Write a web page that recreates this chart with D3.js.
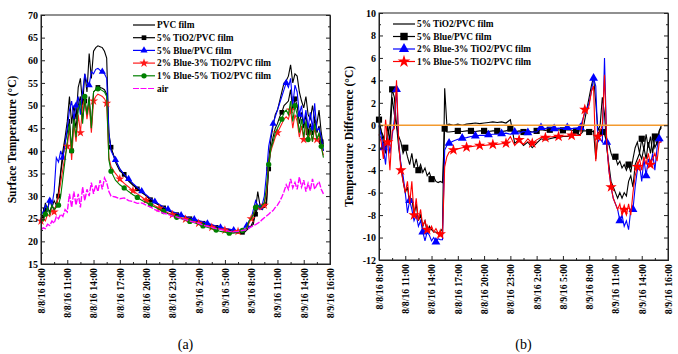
<!DOCTYPE html>
<html>
<head>
<meta charset="utf-8">
<script src="https://cdn.jsdelivr.net/npm/d3@7"></script>
<style>
  body { margin: 0; background: #fff; }
  svg { display: block; }
  text { font-family: "Liberation Serif", "Times New Roman", serif; }
</style>
</head>
<body>
<svg id="fig" width="678" height="354"></svg>
<script>
// Horas desde 8/8/16 8:00 (día 1, noche, día 2)
const hoursDay1 = [0,0.25,0.5,0.75,1,1.25,1.5,1.75,2,2.25,2.5,2.75,3,3.25,3.5,3.75,4,4.25,4.5,4.75,5,5.25,5.5,5.75,6,6.25,6.5,6.75,7,7.25,7.5,7.75,8];
const hoursNight = [8.5,9,9.5,10,10.5,11,11.5,12,12.5,13,13.5,14,14.5,15,15.5,16,16.5,17,17.5,18,18.5,19,19.5,20,20.5,21,21.5,22,22.5,23];
const hoursDay2 = [23.25,23.5,23.75,24,24.25,24.5,24.75,25,25.25,25.5,25.75,26,26.25,26.5,26.75,27,27.25,27.5,27.75,28,28.25,28.5,28.75,29,29.25,29.5,29.75,30,30.25,30.5,30.75,31,31.25,31.5,31.75,32,32.25];
const hours = hoursDay1.concat(hoursNight, hoursDay2);

const xTickHours = [0,3,6,9,12,15,18,21,24,27,30,33];
const xTickLabels = ['8/8/16 8:00','8/8/16 11:00','8/8/16 14:00','8/8/16 17:00','8/8/16 20:00','8/8/16 23:00',
  '8/9/16 2:00','8/9/16 5:00','8/9/16 8:00','8/9/16 11:00','8/9/16 14:00','8/9/16 16:00'];

// (a) Temperatura superficial (°C)
const pvcFilm = [26,25.5,28.5,27,29.5,27.5,29,28,31,35.5,40,43,46.5,52,46,50,47,54,56,50,57,53,61.5,56,62,62.8,63.2,63,62.8,62,60.5,44,40.5,
  38,36,34.6,33.6,32.6,31.7,30.9,30.1,29.3,28.6,28,27.4,26.9,26.4,26,25.7,25.4,25.1,24.8,24.5,24.2,23.9,23.6,23.3,23.1,22.8,22.6,22.2,22,22.2,
  22.5,22.8,23,23.3,23.8,27,31,28,27.5,27.5,28,38,42.5,45.5,48,49,51,53,55,55.5,56.5,59,55,57,56.5,53,51,49.5,52,48,47,50,47,46,49,44,41];
const tio2Film = [26,25,27,27.5,26.5,28,27,28,30,35,38.5,42,44,47,40,48,45,50,52,47,51,48,52,45,53,53.5,54,54,53.8,53.5,52.5,43,40.8,
  37.5,35.5,34.8,33.3,32.4,31.6,30.8,30.1,29.2,28.5,28,27.4,26.8,26.4,25.9,25.6,25.3,25,24.6,24.3,24,23.7,23.4,23.1,22.8,22.5,22.2,22,21.8,22,
  22,22.5,23,23.5,24.5,26,27.5,27.5,27,27.8,29,36,40.5,43,45,46,47.5,48.5,50,50.5,51,53.5,49,51.5,50,46,48.5,45,48,44,46,43.5,47,44,45.5,42,40];
const blueFilm = [27,26,28,27,29,28,31,38.5,37.5,40,38.5,41.5,45,49,51,47,50,52,48,53,57,55,54.5,57.5,57,58,58.2,57.8,57.5,57,56,44,40,
  38,36,34.8,33.8,32.8,31.9,31.1,30.3,29.5,28.8,28.2,27.6,27.1,26.6,26.2,25.8,25.5,25.2,24.9,24.6,24.3,24,23.7,23.4,23.1,22.9,22.7,22.5,22.4,22.8,
  23,23.5,24.5,25,27,29,28,27.5,28,30,35,41,43.5,46,47.5,49,50.5,52,53.5,55,54,56,50,54.5,53,48,50,46,49,45,48.5,45,50.5,44.5,45,43,40];
const blue2Tio3Film = [24.5,25,24.5,26,25.5,27,26.5,28,30,33,36,39,41,45,38,46,42,48,44,50,51.5,47,50.5,44,51,52,52.5,52.3,52,51.5,50.5,38.5,36.5,
  35,33.8,32.8,32,31.2,30.5,29.8,29.1,28.5,27.9,27.3,26.8,26.3,25.9,25.5,25.2,24.9,24.6,24.3,24,23.7,23.4,23.1,22.9,22.7,22.5,22.3,22.2,22.2,22.6,
  22.5,23,24,25,26,27.5,27.5,27,27.5,28,31,37.5,40,41.5,43,44,45,46,47,47.5,47,49,45,48,46.5,43,45.5,42.5,46,42,44.5,42,45,42.5,43.5,41,39];
const blue1Tio5Film = [25,24.5,26,27.5,26,28,27,27.5,28,30,34,38,42,46,40,47,43,49,51,46,52,48,51.5,45,53,53.5,53.7,53.6,53.3,53,52,38,35.5,
  33.5,32.5,31.8,31,30.3,29.7,29.1,28.6,28.1,27.6,27.1,26.6,26.1,25.7,25.3,25,24.7,24.4,24.1,23.8,23.4,23.1,22.8,22.5,22.2,22,21.8,21.8,22,22.4,
  22.3,23,24.5,25,26,27.5,28,27.5,28,28.5,32,37,40.5,42,44,45,46,47,48.5,49,48,51,46.5,50,48,44,47,43,46.5,42.5,45,42,46,42.5,44,41,38.5];
const airTemp = [22.5,23,22.8,23.8,23.5,24.5,24,25.5,25,26,25.5,27,26.5,30.5,27.5,31,28,30.5,27.5,32,29,31.5,30,33,30.5,32.5,31,33.5,31.5,34,33,31,30,
  29.8,29.4,29.6,29,28.8,28.4,28.5,28,27.6,27,26.6,26.2,26,25.6,25.4,25,24.8,24.5,24.2,24,23.6,23.3,23.1,22.8,22.6,22.4,22.2,22.1,22.2,22.4,
  22.5,22.6,22.9,23.2,23.5,23.7,24,24.3,24.8,25.2,25.6,26,26.5,26.8,27.5,28,28.8,29.8,31,32.5,31.5,33.8,31.8,33,31.5,34.2,32,33.5,31,32.8,31.2,33.8,31.5,32.5,33.2,31.5,30.5];

// (b) Diferencia de temperatura respecto al PVC (°C)
const diffTio2 = [0.3,-0.5,-1.5,-2.5,0,-1.5,2.5,1,0,-2,-3.5,-5,-6,-5.5,-7,-6.5,-8,-7,-8.5,-8,-9,-8.5,-9.5,-9,-9.3,-9.5,-9.5,-9.6,-9.5,-9.2,3.3,0,0.1,
  0,0.1,0,0.1,0.15,0.2,0.15,0.2,0.25,0.3,0.25,0.3,0.2,0.5,-1.6,-1.3,-1.8,-1.5,-2,-1.6,-1.2,-1.3,-1.2,-1.1,-1.1,-1,-1,-0.9,-0.9,-0.8,
  -0.6,0.5,1.5,2.5,3.5,4.3,2,-0.5,0,2.5,1,-2,-3.5,-5,-5.5,-6,-6.5,-6,-6.5,-6,-6.3,-5,-4.5,-5.5,-3.5,-3,-2.5,-3,-2,-3,-1.5,-2.5,-1,-2,-1.5,-0.5,0];
const diffBlue = [0.5,-0.5,-1,-2,-1,0,3.2,2.5,0,-1,-1.5,-2.5,-2,-2.8,-3.5,-2.5,-3.8,-3,-4,-3.5,-4.2,-3.8,-4.5,-4.2,-4.8,-4.6,-5,-5.1,-5,-5.1,-0.3,-0.6,-0.6,
  -0.55,-0.5,-0.55,-0.5,-0.5,-0.55,-0.5,-0.5,-0.55,-0.5,-0.5,-0.55,-0.5,-0.3,-0.6,-0.5,-0.6,-0.5,-0.6,-0.5,-0.4,-0.45,-0.4,-0.45,-0.4,-0.45,-0.4,-0.45,-0.5,-0.5,
  -0.5,-0.5,-0.5,-0.6,-0.6,-0.5,-3,-0.7,-0.5,-0.6,-0.8,-1.5,-1.7,-2.5,-3,-2.8,-3.5,-3.2,-3.8,-3.5,-4,-3.5,-4.2,-3,-2,-1.5,-2.5,-1.2,-2.2,-0.8,-2,-1,-2.5,-1,-1.8,-0.5,-0.2];
const diffBlue2Tio3 = [0,-1,-2,-3.5,-1,-2.5,-1,0.5,3.2,-1.5,-3.5,-4.5,-6,-7.8,-6.7,-7.5,-8.5,-8,-9,-8.5,-9.5,-10.3,-9.5,-9.8,-10.3,-10,-10.4,-10.1,-10.2,-10.2,-2.2,-1.8,-1.6,
  -1.4,-1.25,-1.15,-1.1,-1,-0.95,-0.9,-0.9,-0.85,-0.8,-0.8,-0.75,-0.7,-0.8,-0.6,-0.7,-0.55,-0.65,-0.6,-0.6,-0.2,-0.3,-0.2,-0.3,-0.25,-0.3,-0.2,-0.3,-0.25,-0.2,
  0.5,1.1,1.5,2,3,4.2,3.5,-1.5,-1.2,-1.5,6,-1.5,-4,-5.5,-6.5,-7,-7.5,-8.5,-8,-9,-8.5,-9.3,-7.5,-7.5,-5.5,-4,-3.5,-5,-3,-4.5,-3,-3.5,-2.5,-4,-2,-1.2,-1.5];
const diffBlue1Tio5 = [-0.8,-1.5,-3,0.5,-1.5,-4,-0.5,-0.3,4,-1.5,-4,-5,-6,-5,-7,-5,-8,-6.5,-8.5,-7.5,-9,-8.5,-9.3,-9.5,-9,-9.5,-9.2,-9.6,-9.7,-9.8,-3.7,-2.8,-2.4,
  -2.2,-2.1,-2,-1.95,-1.9,-1.85,-1.8,-1.8,-1.75,-1.7,-1.7,-1.65,-1.6,-1,-1.8,-1.3,-1.7,-1.2,-1.6,-1.3,-1.1,-1.1,-1.05,-1,-1,-0.95,-0.95,-0.9,-0.9,-0.9,
  0.3,1.4,1.2,1.8,3,3.5,-3.2,-1,-0.5,0,4.5,-1.5,-4,-5.5,-6.5,-7,-7.5,-7,-8,-7.5,-8,-7,-8,-6,-4.5,-3.7,-3,-4,-2.8,-3.5,-2.5,-3.5,-3,-2.5,-3.2,-1.5,-1.5];
const zeroLine = [0];

const svg = d3.select('#fig');

// ¿lleva marcador este punto? (cada 1.5 h con desfase)
const isMark = (h, off) => h >= off && Math.abs((h - off) / 1.5 - Math.round((h - off) / 1.5)) < 1e-6;

function panel(o) {
  const x = d3.scaleLinear().domain([0, 33]).range([o.x0, o.x1]);
  const y = d3.scaleLinear().domain(o.yDomain).range([o.y1, o.y0]);
  const g = svg.append('g');

  const line = d3.line().x(d => x(d[0])).y(d => y(d[1]));

  o.series.forEach(s => {
    const pts = hours.map((h, i) => [h, s.values[i]]);
    g.append('path').attr('d', line(pts))
      .attr('fill', 'none').attr('stroke', s.color).attr('stroke-width', s.width || 1.1)
      .attr('stroke-dasharray', s.dash || null);
    if (s.symbol) {
      g.selectAll(null).data(pts.filter(d => isMark(d[0], s.off))).enter().append('path')
        .attr('transform', d => `translate(${x(d[0])},${y(d[1])})`)
        .attr('d', d3.symbol().type(s.symbol).size(s.size))
        .attr('fill', s.color);
    }
  });

  // línea de referencia en 0
  (o.refLines || []).forEach(v => {
    g.append('line').attr('x1', o.x0).attr('x2', o.x1).attr('y1', y(v)).attr('y2', y(v))
      .attr('stroke', '#f39a2e').attr('stroke-width', 1.3);
  });

  // ejes con marcas hacia dentro
  const styleAxis = sel => {
    sel.selectAll('path,line').attr('stroke', '#222');
    sel.selectAll('text').attr('font-size', 10).attr('font-weight', 'bold').attr('fill', '#000');
  };
  const yMinor = o.yTicks.slice(1).map((v, i) => (v + o.yTicks[i]) / 2);
  const xMinor = xTickHours.slice(1).map((v, i) => (v + xTickHours[i]) / 2);

  g.append('g').attr('transform', `translate(${o.x0},0)`)
    .call(d3.axisLeft(y).tickValues(o.yTicks).tickSize(-4).tickSizeOuter(0).tickPadding(3).tickFormat(d => String(d)))
    .call(styleAxis);
  g.append('g').attr('transform', `translate(${o.x0},0)`)
    .call(d3.axisLeft(y).tickValues(yMinor).tickSize(-2).tickSizeOuter(0).tickFormat(''))
    .call(styleAxis);
  g.append('g').attr('transform', `translate(${o.x1},0)`)
    .call(d3.axisRight(y).tickValues(o.yTicks).tickSize(-4).tickSizeOuter(0).tickFormat(''))
    .call(styleAxis);
  g.append('g').attr('transform', `translate(${o.x1},0)`)
    .call(d3.axisRight(y).tickValues(yMinor).tickSize(-2).tickSizeOuter(0).tickFormat(''))
    .call(styleAxis);

  const xa = g.append('g').attr('transform', `translate(0,${o.y1})`)
    .call(d3.axisBottom(x).tickValues(xTickHours).tickSize(-4).tickSizeOuter(0).tickFormat((d, i) => xTickLabels[i]))
    .call(styleAxis);
  xa.selectAll('text').attr('transform', 'rotate(-90)').attr('text-anchor', 'end')
    .attr('x', -4).attr('y', 0).attr('dy', '0.35em').attr('font-size', 9.8);
  g.append('g').attr('transform', `translate(0,${o.y1})`)
    .call(d3.axisBottom(x).tickValues(xMinor).tickSize(-2).tickSizeOuter(0).tickFormat(''))
    .call(styleAxis);

  g.append('rect').attr('x', o.x0).attr('y', o.y0).attr('width', o.x1 - o.x0).attr('height', o.y1 - o.y0)
    .attr('fill', 'none').attr('stroke', '#222').attr('stroke-width', 1);

  // título del eje Y
  g.append('text').attr('transform', `translate(${o.titleX},${(o.y0 + o.y1) / 2}) rotate(-90)`)
    .attr('text-anchor', 'middle').attr('font-size', 11.5).attr('font-weight', 'bold').text(o.yTitle);

  // leyenda
  o.series.forEach((s, i) => {
    const ly = o.legY + i * o.legStep;
    g.append('line').attr('x1', o.legX).attr('x2', o.legX + 22).attr('y1', ly).attr('y2', ly)
      .attr('stroke', s.color).attr('stroke-width', 1.2).attr('stroke-dasharray', s.dash || null);
    if (s.symbol) {
      g.append('path').attr('transform', `translate(${o.legX + 11},${ly})`)
        .attr('d', d3.symbol().type(s.symbol).size(s.legSize || s.size)).attr('fill', s.color);
    }
    g.append('text').attr('x', o.legX + 24).attr('y', ly).attr('dy', '0.35em')
      .attr('font-size', 9.3).attr('font-weight', 'bold').text(s.name);
  });

  // rótulo (a)/(b)
  g.append('text').attr('x', (o.x0 + o.x1) / 2).attr('y', 349).attr('text-anchor', 'middle')
    .attr('font-size', 14).text(o.caption);
}

panel({
  x0: 41, x1: 330, y0: 15, y1: 264,
  yDomain: [15, 70], yTicks: [15, 20, 25, 30, 35, 40, 45, 50, 55, 60, 65, 70],
  yTitle: 'Surface Temperature (°C)', titleX: 16, caption: '(a)',
  legX: 133, legY: 25, legStep: 12.7,
  series: [
    { name: 'PVC film', values: pvcFilm, color: '#000' },
    { name: '5% TiO2/PVC film', values: tio2Film, color: '#000', symbol: d3.symbolSquare, size: 22, off: 0.5 },
    { name: '5% Blue/PVC film', values: blueFilm, color: '#0000ff', symbol: d3.symbolTriangle, size: 22, off: 1 },
    { name: '2% Blue-3% TiO2/PVC film', values: blue2Tio3Film, color: '#ff1a1a', symbol: d3.symbolStar, size: 26, off: 0 },
    { name: '1% Blue-5% TiO2/PVC film', values: blue1Tio5Film, color: '#008000', symbol: d3.symbolCircle, size: 22, off: 0.5 },
    { name: 'air', values: airTemp, color: '#ff00ff', dash: '6,1.5', width: 1.4 }
  ]
});

panel({
  x0: 379, x1: 668, y0: 13, y1: 260,
  yDomain: [-12, 10], yTicks: [-12, -10, -8, -6, -4, -2, 0, 2, 4, 6, 8, 10],
  yTitle: 'Temperature Difference (°C)', titleX: 353, caption: '(b)',
  legX: 393, legY: 24, legStep: 12.5, refLines: zeroLine,
  series: [
    { name: '5% TiO2/PVC film', values: diffTio2, color: '#000' },
    { name: '5% Blue/PVC film', values: diffBlue, color: '#000', symbol: d3.symbolSquare, size: 38, legSize: 55, off: 0 },
    { name: '2% Blue-3% TiO2/PVC film', values: diffBlue2Tio3, color: '#0000ff', symbol: d3.symbolTriangle, size: 34, legSize: 45, off: 0.5 },
    { name: '1% Blue-5% TiO2/PVC film', values: diffBlue1Tio5, color: '#ff0000', symbol: d3.symbolStar, size: 40, legSize: 50, off: 1 }
  ]
});
</script>
</body>
</html>
